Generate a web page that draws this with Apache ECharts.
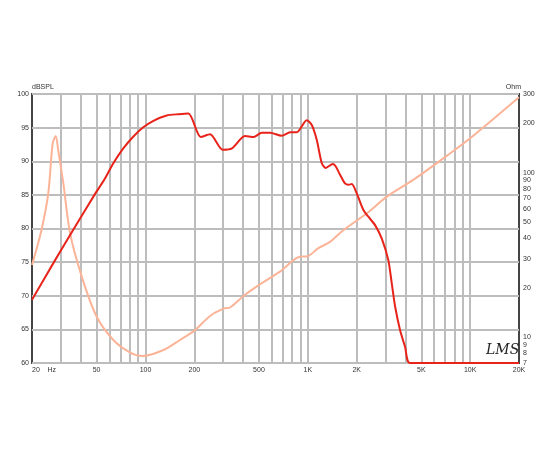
<!DOCTYPE html>
<html>
<head>
<meta charset="utf-8">
<script src="https://cdn.jsdelivr.net/npm/echarts@6/dist/echarts.min.js"></script>
<style>html,body{margin:0;padding:0;background:#fff}#c{width:550px;height:450px}</style>
</head>
<body>
<div id="c"></div>
<script>
// Frequency response (Hz, dB SPL)
var splFreq = [20,27.3,36.3,48.5,55.6,63.4,73,84,97,112,135,160,184,219,250,299,341,410,464,520,585,690,778,855,985,1058,1135,1220,1290,1425,1480,1580,1697,1780,1866,2003,2200,2361,2597,2856,3134,3290,3450,3700,3974,4266,20000];
var splDb   = [69.4,75,80,85,87.2,89.7,91.9,93.65,95.05,96.0,96.8,97.0,97.1,93.6,94.0,91.7,91.9,93.75,93.6,94.25,94.25,93.8,94.3,94.3,96.1,95.4,93.2,89.7,89.0,89.6,89.3,88.0,86.7,86.5,86.6,85.2,82.75,81.75,80.5,78.5,75.3,71.85,68.4,64.9,62.4,60,60];
// Impedance (Hz, Ohm)
var impFreq = [20,22.9,25.2,26.8,28,29,31.2,34.3,40.5,50,63.4,80,96,129,163,200,250,305,332,400,496,674,895,985,1162,1370,1660,2316,3069,4460,7540,10000,20000];
var impOhm  = [27.5,45,75,150,167,137,86,43,23.4,13.4,9.65,8.13,7.72,8.39,9.65,11.0,13.5,15.0,15.2,17.8,20.7,25.1,30.9,31.0,34.8,38,44.9,56.7,71.5,90.3,131,161.6,287];
// Axis ticks
var freqLabels = [20,50,100,200,500,1000,2000,5000,10000,20000];
var freqGrid = [30,40,50,60,70,80,90,100,200,300,400,500,600,700,800,900,1000,2000,3000,4000,5000,6000,7000,8000,9000,10000];
var ohmLabels = [7,8,9,10,20,30,40,50,60,70,80,90,100,200,300];

var L = Math.log10;
var chart = echarts.init(document.getElementById('c'));
var txt = {fontSize:7, color:'#333', fontFamily:'Liberation Sans, Arial, sans-serif'};
chart.setOption({
  animation:false,
  grid:{left:32,right:31,top:94,bottom:87,show:true,borderColor:'#444',borderWidth:2},
  xAxis:{type:'value',min:L(20),max:L(20000),
    axisLine:{show:false},
    axisTick:{show:false,customValues:freqGrid.map(L)},
    splitLine:{show:true,lineStyle:{color:'#bdbdbd',width:2}},
    axisLabel:Object.assign({customValues:freqLabels.map(L),margin:4,alignMinLabel:'left',
      formatter:function(v){var f=Math.round(Math.pow(10,v)); if(f===20) return '20    Hz'; return f>=1000?(f/1000)+'K':String(f);}},txt)
  },
  yAxis:[
    {type:'value',min:60,max:100,interval:5,position:'left',
     name:'dBSPL',nameLocation:'end',nameGap:3,nameTextStyle:Object.assign({align:'left',padding:[0,0,0,0]},txt),
     axisLine:{show:false},axisTick:{show:false},
     splitLine:{show:true,lineStyle:{color:'#bdbdbd',width:2}},
     axisLabel:Object.assign({margin:3},txt)},
    {type:'value',min:L(7),max:L(300),position:'right',
     name:'Ohm',nameLocation:'end',nameGap:3,nameTextStyle:Object.assign({align:'right',padding:[0,-2,0,0]},txt),
     axisLine:{show:false},axisTick:{show:false},splitLine:{show:false},
     axisLabel:Object.assign({customValues:ohmLabels.map(L),margin:4,
       formatter:function(v){return String(Math.round(Math.pow(10,v)));}},txt)}
  ],
  series:[
    {type:'line',yAxisIndex:1,data:impFreq.map(function(f,i){return [L(f),L(impOhm[i])];}),
     showSymbol:false,smooth:0.3,lineStyle:{color:'#fbb497',width:2},z:2},
    {type:'line',yAxisIndex:0,data:splFreq.map(function(f,i){return [L(f),splDb[i]];}),
     showSymbol:false,smooth:0.25,lineStyle:{color:'#e8231a',width:2},z:3}
  ],
  graphic:[{type:'text',left:486,top:343,style:{text:'LMS',font:'italic 14px DejaVu Serif',fill:'#222'}}]
});
</script>
</body>
</html>
